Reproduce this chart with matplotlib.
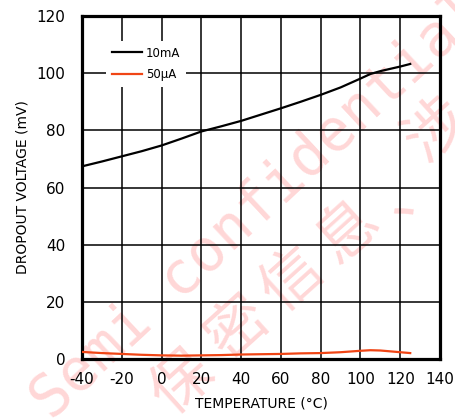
import matplotlib
matplotlib.use('Agg')
import matplotlib.pyplot as plt

temp = [-40, -30, -20, -10, 0, 10, 20, 30, 40, 50, 60, 70, 80, 90, 100, 105, 110, 120, 125]
v_10mA = [67.4, 69.1, 70.9, 72.7, 74.7, 77.1, 79.6, 81.4, 83.3, 85.5, 87.7, 90.0, 92.4, 95.0, 98.1, 99.7, 100.7, 102.3, 103.2]
v_50uA = [2.5, 2.1, 1.8, 1.5, 1.3, 1.2, 1.3, 1.4, 1.6, 1.7, 1.8, 2.0, 2.1, 2.4, 2.9, 3.1, 3.0, 2.4, 2.1]

labels = ['10mA', '50µA']
colors = ['black', '#f04515']

x_ticks = list(range(-40, 141, 20))
y_ticks = list(range(0, 121, 20))

wm_latin = 'Semi confidential'
wm_cjk = ['保', '密', '信', '息', '、', '涉']
# watermark glyph centres in pixels from top-left
wm_cjk_px = [(182, 383), (238, 328), (292, 280), (348, 232), (410, 188), (437, 130)]

plt.rcParams['font.family'] = ['DejaVu Sans', 'Noto Sans CJK SC']
plt.rcParams['axes.unicode_minus'] = False

W, H = 456, 419
fig = plt.figure(figsize=(W / 100, H / 100), dpi=100)
ax = fig.add_axes([0.180, 0.143, 0.785, 0.819])
ax.patch.set_alpha(0)

ax.plot(temp, v_10mA, color=colors[0], lw=1.6, label=labels[0], zorder=3)
ax.plot(temp, v_50uA, color=colors[1], lw=1.6, label=labels[1], zorder=3)

ax.set_xlim(-40, 140)
ax.set_ylim(0, 120)
ax.set_xticks(x_ticks)
ax.set_yticks(y_ticks)
ax.tick_params(length=0, labelsize=11)
ax.tick_params(axis='y', pad=12)
ax.tick_params(axis='x', pad=9)
ax.grid(True, color='black', lw=1.1)
ax.set_axisbelow(True)
for s in ax.spines.values():
    s.set_linewidth(2.3)

ax.set_xlabel('TEMPERATURE (°C)', fontsize=10, labelpad=7)
ax.set_ylabel('DROPOUT VOLTAGE (mV)', fontsize=10, labelpad=5)

leg = ax.legend(loc='upper left', bbox_to_anchor=(0.05, 0.945), fontsize=8.5,
                handlelength=2.6, handletextpad=0.3, labelspacing=0.75,
                frameon=True, fancybox=False, framealpha=1, borderpad=0.5)
leg.get_frame().set_edgecolor('none')
leg.set_zorder(4)

# watermark (behind the axes)
fig.text(258 / W, 1 - 205 / H, wm_latin, fontsize=42, family='DejaVu Sans Mono',
         color='#ff2020', alpha=0.18, rotation=43, ha='center', va='center', zorder=-1)
for ch, (px, py) in zip(wm_cjk, wm_cjk_px):
    fig.text(px / W, 1 - py / H, ch, fontsize=44, family=['Noto Sans CJK SC'],
             color='#ff2020', alpha=0.18, rotation=42, ha='center', va='center', zorder=-1)

fig.savefig('out.png', dpi=100)
